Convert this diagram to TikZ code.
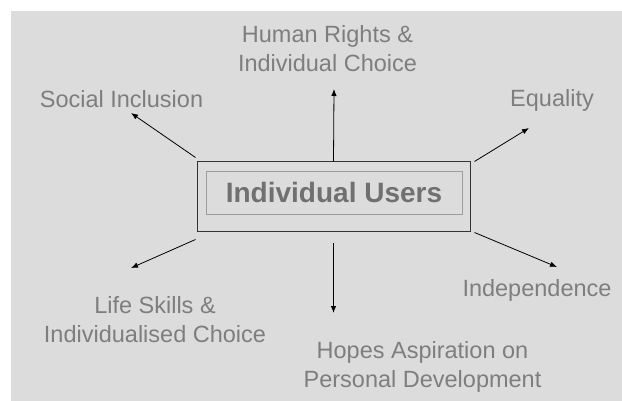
\documentclass[tikz,border=0pt]{standalone}
\usepackage{fontspec}
\setmainfont{Liberation Sans}
\usepackage{tikz}
\usetikzlibrary{arrows,arrows.meta}
\definecolor{slide}{HTML}{DCDCDC}
\definecolor{labelgray}{HTML}{7E7E7E}
\definecolor{titlegray}{HTML}{707070}
\tikzstyle{topic}=[text=labelgray,align=center,inner sep=0pt,font=\fontsize{23.5}{29}\selectfont]
\tikzstyle{outer box}=[draw=black!80,line width=1pt,minimum width=273pt,minimum height=70pt,inner sep=0pt]
\tikzstyle{inner box}=[draw=black!38,line width=0.9pt,minimum width=256pt,minimum height=43pt,inner sep=0pt,text=titlegray,font=\bfseries\fontsize{28}{34}\selectfont]
\tikzstyle{edge} = [draw,line width=0.8pt,-{Latex[length=7pt,width=5.5pt]}]

\begin{document}
\begin{tikzpicture}[x=1pt,y=-1pt]
        \useasboundingbox (0,0) rectangle (622,401);
        \fill[slide] (11,11) rectangle (622,401);
        %\tikzset{edge/.style = {->,>=latex'}}
        \node[outer box] (users) at (333.5,197) {};
        \node[inner box] (title) at (334,192.5) {Individual Users};
        \node[topic] (rights) at (327.5,49) {Human Rights \&\\Individual Choice};
        \node[topic] (inclusion) at (121.5,99.4) {Social Inclusion};
        \node[topic] (equality) at (552,100.9) {Equality};
        \node[topic] (independence) at (537,290.9) {Independence};
        \node[topic] (skills) at (155,319.9) {Life Skills \&\\Individualised Choice};
        \node[topic] (hopes) at (422.5,366.6) {Hopes Aspiration on\\Personal Development};
        \coordinate (a) at (334,89);
        \coordinate (b) at (529,128);
        \coordinate (c) at (131,113);
        \coordinate (d) at (131,268);
        \coordinate (e) at (333.5,313);
        \coordinate (f) at (557,267);
        \draw[edge] (users.north) to (a);
        \draw[edge] ([xshift=4pt]users.north east) to (b);
        \draw[edge] ([xshift=-1pt,yshift=4pt]users.north west) to (c);
        \draw[edge] ([xshift=-1pt,yshift=-7pt]users.south west) to (d);
        \draw[edge] ([yshift=-11pt]users.south) to (e);
        \draw[edge] ([xshift=4pt]users.south east) to (f);
      \end{tikzpicture}
\end{document}
